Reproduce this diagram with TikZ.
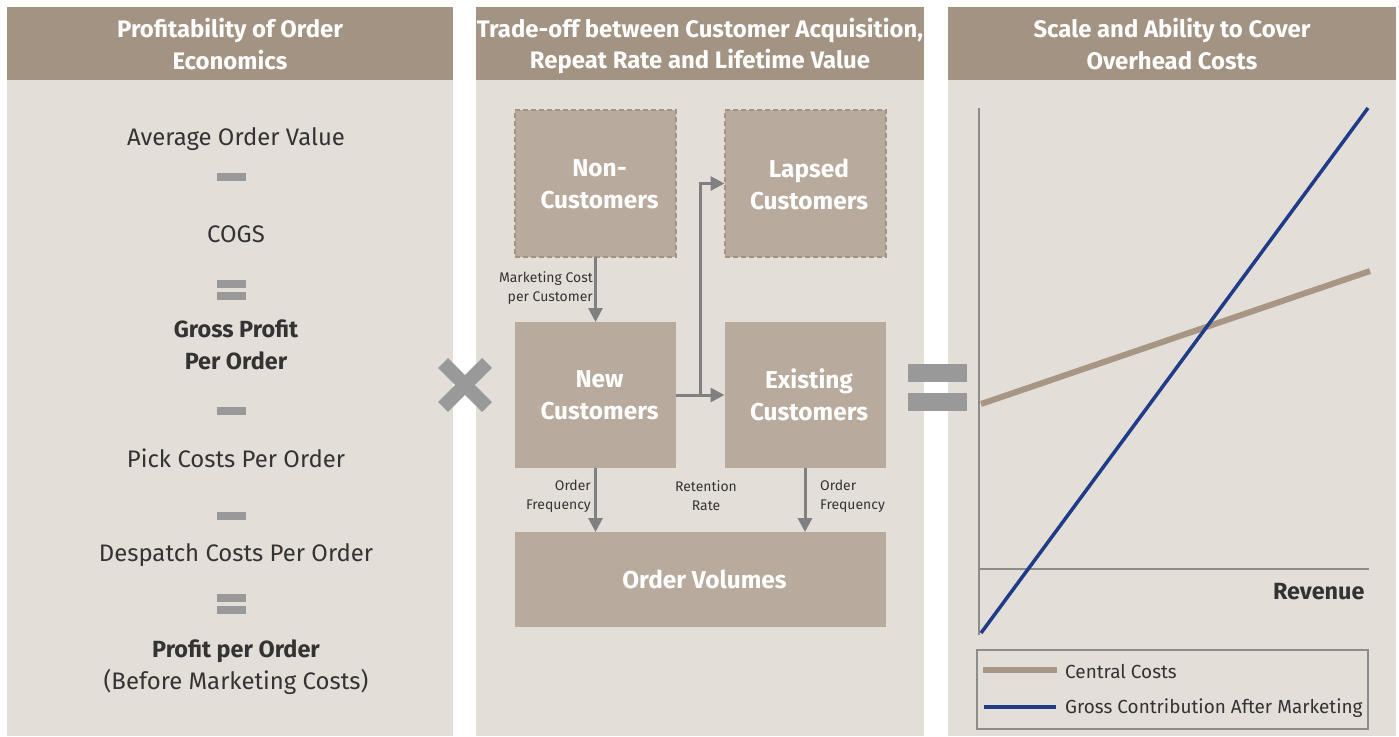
\documentclass[tikz,border=0pt]{standalone}
\usepackage{fontspec}
\setmainfont{Fira Sans}
\usetikzlibrary{positioning,arrows.meta}
\definecolor{hdr}{HTML}{A39382}
\definecolor{pane}{HTML}{E4DED8}
\definecolor{boxc}{HTML}{B8AA9C}
\definecolor{arr}{HTML}{808080}
\definecolor{opc}{HTML}{999999}
\definecolor{txt}{HTML}{333333}
\definecolor{navy}{HTML}{1F3C88}
\definecolor{taupe}{HTML}{A89685}
\definecolor{axisc}{HTML}{8C8C8C}
\tikzset{
  hdrtext/.style={text=white,font=\fontsize{24}{32}\selectfont\bfseries,align=center},
  steptext/.style={text=txt,font=\fontsize{24}{32}\selectfont,align=center},
  boldtext/.style={text=txt,font=\fontsize{23.5}{32}\selectfont\bfseries,align=center},
  cbox/.style={fill=boxc,inner sep=0pt,outer sep=0pt},
  dashbox/.style={cbox,draw=hdr,line width=2bp,dash pattern=on 5bp off 3bp},
  boxlabel/.style={text=white,align=center,font=\fontsize{24.5}{32}\selectfont\bfseries},
  smalltext/.style={text=txt,font=\fontsize{14}{19}\selectfont,inner sep=0pt},
  flow/.style={arr,line width=3bp,-{Triangle[length=14bp,width=14bp]}},
  opbar/.style={fill=opc}
}
\begin{document}
\begin{tikzpicture}[x=1bp,y=-1bp]
\useasboundingbox (0,0) rectangle (1399,736);
\fill[white] (0,0) rectangle (1399,736);
% panels
\fill[pane] (7,7) rectangle (453,736);
\fill[pane] (476,7) rectangle (924,736);
\fill[pane] (948,7) rectangle (1396,736);
\fill[hdr] (7,7) rectangle (453,80);
\fill[hdr] (476,7) rectangle (924,80);
\fill[hdr] (948,7) rectangle (1396,80);
\node[hdrtext] (h1) at (230,44) {Profitability of Order\\Economics};
\node[hdrtext] (h2) at (700,46) {Trade-off between Customer Acquisition,\\Repeat Rate and Lifetime Value};
\node[hdrtext] (h3) at (1172,44) {Scale and Ability to Cover\\Overhead Costs};

% left column
\node[steptext] (aov) at (236,139) {Average Order Value};
\fill[opbar] (217,173) rectangle (246,181);
\node[steptext] (cogs) at (236,234) {COGS};
\fill[opbar] (217,280) rectangle (246,288);
\fill[opbar] (217,292) rectangle (246,300);
\node[boldtext] (gp) at (236,345) {Gross Profit\\Per Order};
\fill[opbar] (217,407) rectangle (246,415);
\node[steptext] (pick) at (236,458) {Pick Costs Per Order};
\fill[opbar] (217,512) rectangle (246,520);
\node[steptext] (desp) at (236,555) {Despatch Costs Per Order};
\fill[opbar] (217,594) rectangle (246,602);
\fill[opbar] (217,606) rectangle (246,614);
\node[boldtext] (ppo) at (236,651) {Profit per Order};
\node[steptext] (bmc) at (236,682) {(Before Marketing Costs)};

% operators
\draw[opc,line width=14bp] (443,363)--(487,407);
\draw[opc,line width=14bp] (487,363)--(443,407);
\fill[opbar] (908,364) rectangle (967,382);
\fill[opbar] (908,393) rectangle (967,411);

% middle column
\node[dashbox,minimum width=161bp,minimum height=147bp] (non) at (595.5,183.5) {};
\node[dashbox,minimum width=161bp,minimum height=147bp] (lapsed) at (805,183.5) {};
\node[cbox,minimum width=161bp,minimum height=146bp] (new) at (595.5,395) {};
\node[cbox,minimum width=161bp,minimum height=146bp] (exist) at (805,395) {};
\node[cbox,minimum width=371bp,minimum height=95bp] (vol) at (700.5,579.5) {};
\node[boxlabel] (nont) at ([xshift=4bp,yshift=-1bp]non.center) {Non-\\Customers};
\node[boxlabel] (lapsedt) at ([xshift=4bp,yshift=-1bp]lapsed.center) {Lapsed\\Customers};
\node[boxlabel] (newt) at ([xshift=4bp]new.center) {New\\Customers};
\node[boxlabel] (existt) at ([xshift=4bp]exist.center) {Existing\\Customers};
\node[boxlabel] (volt) at ([xshift=4bp]vol.center) {Order Volumes};

\draw[flow] (non.south) -- (new.north);
\draw[flow] (new.east) -- (exist.west);
\coordinate (split) at (700,395);
\draw[flow] (split) |- (lapsed.west);
\draw[flow] (new.south) -- (new.south |- vol.north);
\draw[flow] (exist.south) -- (exist.south |- vol.north);

\node[smalltext,align=right,anchor=east] (mc) at (593,288) {Marketing Cost\\per Customer};
\node[smalltext,align=right,anchor=east] (of1) at (591,496) {Order\\Frequency};
\node[smalltext,align=center] (rr) at (706,496) {Retention\\Rate};
\node[smalltext,align=left,anchor=west] (of2) at (820,496) {Order\\Frequency};

% right column
\draw[axisc,line width=2bp] (979,108) -- (979,635);
\draw[axisc,line width=2bp] (979,569) -- (1369,569);
\draw[taupe,line width=6bp] (981,404) -- (1370,271);
\draw[navy,line width=3.5bp] (981,633) -- (1368,108);
\node[boldtext,anchor=east] (rev) at (1368,592) {Revenue};
\draw[axisc,line width=2bp] (977,650) rectangle (1368,729);
\draw[taupe,line width=6bp] (983,670) -- (1057,670);
\draw[navy,line width=3.5bp] (984,707) -- (1056,707);
\node[text=txt,font=\fontsize{19}{24}\selectfont,anchor=west,inner sep=0pt] (lg1) at (1065,672) {Central Costs};
\node[text=txt,font=\fontsize{19}{24}\selectfont,anchor=west,inner sep=0pt] (lg2) at (1065,708) {Gross Contribution After Marketing};
\end{tikzpicture}
\end{document}
